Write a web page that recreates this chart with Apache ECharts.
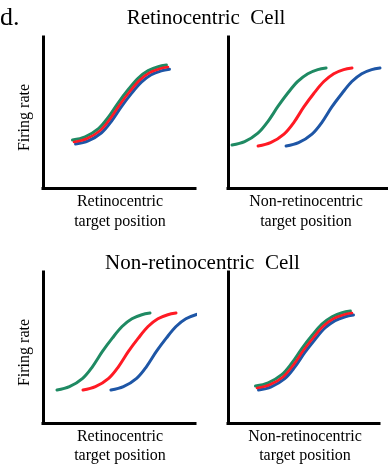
<!DOCTYPE html>
<html>
<head>
<meta charset="utf-8">
<script src="https://cdn.jsdelivr.net/npm/echarts@6/dist/echarts.min.js"></script>
<style>html,body{margin:0;padding:0;background:#fff}#c{width:388px;height:464px}</style>
</head>
<body>
<div id="c"></div>
<script>
// ---- Data (axes are 0-100 arbitrary units) ----
// Panel A: Retinocentric cell, retinocentric target position (overlapping curves)
const aGreenX = [19.4, 27.7, 36.5, 43.0, 49.6, 56.1, 62.7, 69.2, 75.8, 81.2];
const aGreenY = [31.8, 33.9, 39.3, 46.9, 56.6, 65.2, 72.8, 77.7, 80.3, 81.4];
const aRedX   = [20.4, 28.7, 37.5, 44.0, 50.6, 57.1, 63.7, 70.2, 76.8, 82.2];
const aRedY   = [30.5, 32.6, 38.0, 45.6, 55.3, 63.9, 71.5, 76.4, 79.0, 80.1];
const aBlueX  = [21.4, 29.7, 38.5, 45.0, 51.6, 58.1, 64.7, 71.2, 77.8, 83.2];
const aBlueY  = [29.1, 31.2, 36.6, 44.2, 53.9, 62.5, 70.1, 75.0, 77.6, 78.7];
// Panel B: Retinocentric cell, non-retinocentric target position (shifted curves)
const bGreenX = [2.5, 10.4, 18.7, 24.9, 31.2, 37.4, 43.6, 49.9, 56.1, 61.3];
const bGreenY = [28.5, 30.7, 36.3, 44.0, 54.0, 62.9, 70.6, 75.7, 78.4, 79.5];
const bRedX   = [18.8, 26.6, 35.0, 41.2, 47.4, 53.6, 59.9, 66.1, 72.3, 77.5];
const bRedY   = [27.8, 30.0, 35.7, 43.5, 53.7, 62.6, 70.5, 75.7, 78.4, 79.5];
const bBlueX  = [36.3, 44.1, 52.5, 58.7, 64.9, 71.2, 77.4, 83.6, 89.8, 95.0];
const bBlueY  = [27.8, 30.0, 35.7, 43.5, 53.7, 62.6, 70.5, 75.7, 78.4, 79.5];
// Panel C: Non-retinocentric cell, retinocentric target position (shifted curves)
const cGreenX = [9.2, 17.4, 26.1, 32.6, 39.1, 45.6, 52.0, 58.5, 65.0, 70.4];
const cRedX   = [26.3, 34.5, 43.2, 49.7, 56.2, 62.7, 69.1, 75.6, 82.1, 87.5];
const cBlueX  = [44.7, 52.9, 61.6, 68.1, 74.6, 81.1, 87.5, 94.0, 100.5, 105.9];
const cY      = [21.9, 24.1, 29.6, 37.4, 47.4, 56.2, 63.9, 69.0, 71.7, 72.8];
// Panel D: Non-retinocentric cell, non-retinocentric target position (overlapping curves)
const dGreenX = [18.2, 26.6, 35.6, 42.2, 48.9, 55.6, 62.2, 68.9, 75.6, 81.1];
const dGreenY = [24.5, 26.6, 32.0, 39.6, 49.3, 57.9, 65.5, 70.4, 73.0, 74.1];
const dRedX   = [19.2, 27.6, 36.6, 43.2, 49.9, 56.6, 63.2, 69.9, 76.6, 82.1];
const dRedY   = [23.2, 25.3, 30.7, 38.3, 48.0, 56.6, 64.2, 69.1, 71.7, 72.8];
const dBlueX  = [20.2, 28.6, 37.6, 44.2, 50.9, 57.6, 64.2, 70.9, 77.6, 83.1];
const dBlueY  = [21.9, 24.0, 29.4, 37.0, 46.7, 55.3, 62.9, 67.8, 70.4, 71.5];

// ---- Text ----
const panelLetter = 'd.';
const titles = ['Retinocentric  Cell', 'Non-retinocentric  Cell'];
const yLabel = 'Firing rate';
const xLabels = [['Retinocentric', 'target position'], ['Non-retinocentric', 'target position']];

const GREEN = '#1f8a63', RED = '#ff1a24', BLUE = '#1e56a6';
const FONT = '"Liberation Serif", "Times New Roman", serif';

function zip(xs, ys) { return xs.map((x, i) => [x, ys[i]]); }

const grids = [
  { left: 43,  top: 37,  width: 152, height: 151 },
  { left: 228, top: 37,  width: 160, height: 151 },
  { left: 43,  top: 272, width: 152, height: 151 },
  { left: 228, top: 272, width: 151, height: 151 }
];
const axisLine = { show: true, onZero: false, lineStyle: { color: '#000', width: 3, cap: 'square' } };
function ax(i) {
  return { type: 'value', gridIndex: i, min: 0, max: 100, axisLine: axisLine,
    axisTick: { show: false }, axisLabel: { show: false }, splitLine: { show: false } };
}
function line(i, data, color, z, w) {
  return { type: 'line', xAxisIndex: i, yAxisIndex: i, data: data, smooth: 0.35,
    symbol: 'none', clip: false, z: z, silent: true, animation: false,
    lineStyle: { color: color, width: w || 3, cap: 'round' } };
}

const series = [
  line(0, zip(aBlueX, aBlueY), BLUE, 2), line(0, zip(aGreenX, aGreenY), GREEN, 3), line(0, zip(aRedX, aRedY), RED, 4, 2.6),
  line(1, zip(bGreenX, bGreenY), GREEN, 2), line(1, zip(bRedX, bRedY), RED, 2), line(1, zip(bBlueX, bBlueY), BLUE, 2),
  line(2, zip(cGreenX, cY), GREEN, 2), line(2, zip(cRedX, cY), RED, 2), line(2, zip(cBlueX, cY), BLUE, 2),
  line(3, zip(dBlueX, dBlueY), BLUE, 2), line(3, zip(dGreenX, dGreenY), GREEN, 3), line(3, zip(dRedX, dRedY), RED, 4, 2.6)
];

function txt(s, x, y, size, align, rot) {
  return { type: 'text', x: x, y: y, rotation: rot || 0, silent: true,
    style: { text: s, x: 0, y: 0, fill: '#000', font: size + 'px ' + FONT,
      textAlign: align || 'center', textVerticalAlign: 'middle' } };
}
const graphic = [
  txt(panelLetter, 0, 18, 26, 'left'),
  txt(titles[0], 206, 18.5, 21),
  txt(titles[1], 202.5, 263.5, 21),
  txt(yLabel, 24.5, 117.5, 16, 'center', Math.PI / 2),
  txt(yLabel, 24.5, 352.5, 16, 'center', Math.PI / 2),
  txt(xLabels[0][0], 120, 202.2, 16), txt(xLabels[0][1], 120, 222.2, 16),
  txt(xLabels[1][0], 306, 202.2, 16), txt(xLabels[1][1], 306, 222.2, 16),
  txt(xLabels[0][0], 120, 437.2, 16), txt(xLabels[0][1], 120, 456.2, 16),
  txt(xLabels[1][0], 305, 437.2, 16), txt(xLabels[1][1], 305, 456.2, 16)
];

const chart = echarts.init(document.getElementById('c'), null, { renderer: 'canvas' });
chart.setOption({
  animation: false,
  backgroundColor: '#fff',
  grid: grids,
  xAxis: [ax(0), ax(1), ax(2), ax(3)],
  yAxis: [ax(0), ax(1), ax(2), ax(3)],
  series: series,
  graphic: graphic
});
</script>
</body>
</html>
